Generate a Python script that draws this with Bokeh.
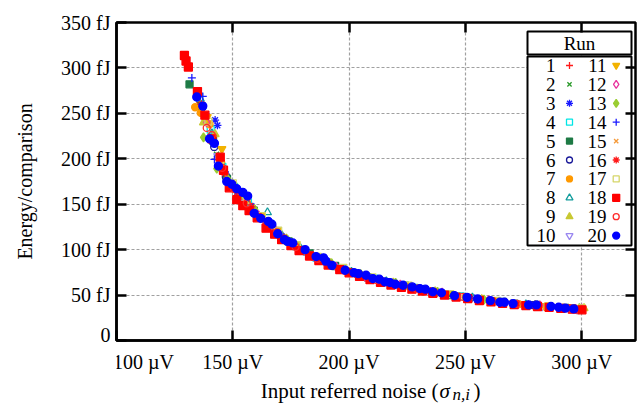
from bokeh.plotting import figure
from bokeh.layouts import column
from bokeh.models import FixedTicker, LinearAxis, Label, Range1d, Grid
from bokeh.embed import file_html
from bokeh.resources import INLINE

FONT = "Liberation Serif"

# ---------------- data ----------------
x_ticks = [100, 150, 200, 250, 300]
x_tick_labels = ["100 µV", "150 µV", "200 µV", "250 µV", "300 µV"]
y_ticks = [0, 50, 100, 150, 200, 250, 300, 350]
y_tick_labels = ["0", "50 fJ", "100 fJ", "150 fJ", "200 fJ", "250 fJ", "300 fJ", "350 fJ"]
grid_x = [150, 200, 250, 300]
grid_y = [50, 100, 150, 200, 250, 300]
y_title = "Energy/comparison"
x_title_main = "Input referred noise ("
x_title_sym = "σ"
x_title_sub = "n,i"
x_title_end = ")"
legend_title = "Run"
run_labels = [str(i) for i in range(1, 21)]

sig_01 = [136, 141, 146, 151, 157, 163, 170, 178, 188, 200, 215, 232, 252, 275, 298]
en_01 = [262, 227, 188, 165, 151, 133, 119, 102, 89, 75, 65, 56, 47, 39.2, 34.6]
sig_02 = [138, 143, 148, 154, 160, 167, 174, 183, 193, 206, 221, 238, 258, 280, 299]
en_02 = [246, 205, 174, 156, 138, 124, 109, 95, 83, 71.5, 62, 53, 44.5, 38.4, 34.2]
sig_03 = [142.4, 143.4, 147, 152, 158, 165, 172, 180, 190, 202, 217, 234, 254, 277, 297]
en_03 = [242.6, 236.8, 183, 163, 148, 129, 114, 99, 86, 74.5, 64, 55, 46, 39.5, 35.2]
sig_04 = [135.5, 140.5, 145.5, 150.5, 156.5, 162.5, 169, 177, 186, 197, 211, 228, 248, 271, 296]
en_04 = [268, 232, 191, 169, 152, 135, 120, 104, 91, 79, 68, 58, 48.5, 40.5, 35.3]
sig_05 = [131.4, 136.5, 141.5, 147.5, 153, 159, 166, 174, 183, 194, 208, 224, 244, 266, 293]
en_05 = [282, 258, 220, 178, 160, 143, 127, 109, 96, 82, 69.5, 60.5, 50, 42.4, 36]
sig_06 = [137, 142, 147, 152.5, 158.5, 165, 172.5, 181, 191, 203, 218, 236, 256, 279, 300]
en_06 = [257, 213, 180, 162, 145, 129, 112, 98, 86, 73.5, 63, 54, 45.3, 38.9, 34.6]
sig_07 = [133.8, 136.2, 140, 145, 150, 156, 162, 169, 177, 187, 199, 213, 230, 250, 273, 297]
en_07 = [256.7, 250.5, 238, 196, 172, 154, 136, 120, 104, 90, 77, 67, 57.5, 47.7, 40, 35]
sig_08 = [136, 141, 146, 151, 157, 164.9, 171, 179, 189, 201, 216, 233, 253, 276, 299]
en_08 = [266, 228, 190, 168, 149, 141, 116, 102, 88, 75.5, 65, 55.5, 47, 39.8, 34.9]
sig_09 = [137.4, 142.4, 147.5, 153, 159, 165.5, 173, 181.5, 192, 204, 219, 237, 257, 280, 301]
en_09 = [240, 227, 179, 161, 143, 130, 112, 98, 85, 73, 63.5, 54, 45.5, 39, 35.5]
sig_10 = [138.5, 143.5, 149, 155, 161, 168, 176, 185, 195, 208, 223, 241, 261, 283, 298]
en_10 = [247, 203, 172, 155, 137, 122, 105, 92, 80, 69, 60, 51.5, 43.5, 37.6, 34]
sig_11 = [139, 145.3, 150, 155.5, 162, 169, 177, 186, 197, 209, 224, 242, 262, 284, 299]
en_11 = [246, 210.8, 171, 155, 137, 121, 105, 92, 79, 69.5, 61, 51.8, 43.6, 37.9, 34.9]
sig_12 = [138.8, 144, 149.5, 155, 161, 167.5, 175, 184, 194.5, 207, 222, 240, 260, 282, 300]
en_12 = [240, 199, 171, 157, 138, 125, 107, 93, 81, 70, 61.5, 52.6, 44.5, 38.6, 35]
sig_13 = [137.4, 143.1, 148, 153.5, 159.5, 166, 173.5, 182, 192.5, 205, 220, 238, 258, 281, 299]
en_13 = [223.5, 189.2, 177, 160, 144, 128, 111, 97, 85, 73, 63.5, 53.5, 45, 38.8, 35.6]
sig_14 = [132.4, 137.1, 142.1, 146.5, 151.5, 157.5, 164, 171.5, 180, 190, 202, 217, 234, 254, 277, 297]
en_14 = [289, 268.6, 199.3, 185, 164, 147, 131, 114, 100, 87, 74.5, 64.5, 55, 46.2, 39.3, 34.9]
sig_15 = [135, 140, 145, 150.5, 156, 162.5, 170, 178.5, 188.5, 200.5, 215, 232, 251, 274, 296]
en_15 = [271, 237, 195, 168, 153, 134, 118, 101, 88, 75.8, 65.8, 56.2, 47.3, 39.8, 35.3]
sig_16 = [136.5, 141.5, 146.5, 152, 158, 164.5, 172, 180.5, 190.5, 202.5, 217.5, 235, 255, 278, 300]
en_16 = [260, 220, 184, 163, 147, 131, 113, 99, 86, 74, 64, 54.5, 45.5, 38.9, 34.2]
sig_17 = [139.5, 144.5, 150, 156, 162.5, 169.5, 177.5, 186.5, 197.5, 210, 225.5, 243.5, 263.5, 285.5, 300]
en_17 = [241, 198, 173, 155, 137, 121, 105, 92, 80, 69.5, 60.5, 51, 43.5, 37.8, 35.4]
sig_18 = [129.2, 129.9, 130.9, 134.8, 138, 141, 144.6, 146, 148.5, 151.7, 154.3, 157, 160.5, 164.3,
          168, 171, 175, 178.5, 183, 187, 191, 196, 200, 204.5, 209, 213.5, 218, 222.5, 227, 231.5,
          236, 241, 246, 251, 256, 261, 266, 271, 276, 281, 286, 291, 296, 300.1]
en_18 = [313.7, 307.6, 301, 274, 248, 222, 201.8, 187.4, 168, 155, 148.4, 143, 135, 123.6,
         117, 111, 104.5, 99, 93, 88, 83, 78, 74.5, 70.5, 67, 64, 61, 58.5, 56.5, 54.5,
         52, 50, 47.8, 46, 44, 42.5, 41, 39.6, 38.4, 37.4, 36.5, 35.4, 34.5, 33.8]
sig_19 = [138.8, 141, 145.5, 150.5, 156, 162, 169, 177, 186.5, 198, 212, 229, 249, 272, 295]
en_19 = [234, 226, 190, 167, 151, 135, 119, 103, 90, 77, 66.5, 57, 48, 40.4, 35.2]
sig_20 = [134.5, 137.1, 140, 142.1, 143.8, 147.4, 149.6, 151.7, 154.3, 156.4, 159.2, 162, 165.3,
          166.8, 169.3, 172.2, 173.6, 175.8, 181.1, 185.8, 189, 190, 192.6, 198.3, 202.1, 204,
          207.3, 210.2, 213, 215.5, 217.6, 219.9, 223.2, 227.1, 230.4, 232.8, 236, 239.7, 245.3,
          250.7, 255.3, 260.7, 264.8, 266.8, 270.5, 277.2, 280.5, 286.8, 290.1, 293, 296.6]
en_20 = [268, 258, 222, 217, 192, 175, 172, 167, 163, 159, 140, 134.5, 131,
         128, 117.5, 111, 109, 107.4, 100, 92.4, 91, 87.4, 82.7, 77.3, 74.7, 73.6,
         71.8, 68.2, 67.5, 64.5, 63.8, 61.9, 60.8, 59, 57.2, 56.5, 53.6, 52.5, 49.3,
         47.5, 45.7, 43.9, 42.1, 42.1, 40.6, 39.2, 39.2, 37.4, 36.6, 35.6, 34.8]

runs = [(sig_01, en_01), (sig_02, en_02), (sig_03, en_03), (sig_04, en_04), (sig_05, en_05),
        (sig_06, en_06), (sig_07, en_07), (sig_08, en_08), (sig_09, en_09), (sig_10, en_10),
        (sig_11, en_11), (sig_12, en_12), (sig_13, en_13), (sig_14, en_14), (sig_15, en_15),
        (sig_16, en_16), (sig_17, en_17), (sig_18, en_18), (sig_19, en_19), (sig_20, en_20)]

# ---------------- styles ----------------
colors = ["#ff1a1a", "#2a9a2a", "#1a1aff", "#00e6e6", "#1e7a45", "#1a1a99", "#ff9900",
          "#109c9c", "#c8c832", "#9a88f0", "#f2b200", "#e8359e", "#9acd32", "#1a1aff",
          "#f59a3a", "#ff1a1a", "#d6d66a", "#ff0000", "#ff2a2a", "#0000ff"]
markers = ["cross", "x", "asterisk", "square", "square", "circle", "circle", "triangle",
           "triangle", "inverted_triangle", "inverted_triangle", "diamond", "diamond",
           "cross", "x", "asterisk", "square", "square", "circle", "circle"]
filled = [False, False, False, False, True, False, True, False, True, False,
          True, False, True, False, False, False, False, True, False, True]
sizes = [8, 7, 8, 7, 7, 7, 7, 8, 8, 8, 8, 9, 9, 8, 7, 8, 7, 8, 7, 8]

W = 642
H1, H2 = 345, 58
ML, MR, MT, MB = 116, 7, 22, 5
FW, FH = W - ML - MR, H1 - MT - MB
X0, X1 = 100, 100 + FW / 2.326
Y0, Y1 = 0, 350


def fx2x(fx):
    return X0 + fx * (X1 - X0) / FW


def fy2y(fy):
    return Y0 + fy * (Y1 - Y0) / FH


p = figure(width=W, height=H1, output_backend="svg", toolbar_location=None,
           x_range=Range1d(X0, X1), y_range=Range1d(Y0, Y1),
           min_border_left=ML, min_border_right=MR, min_border_top=MT, min_border_bottom=MB,
           x_axis_type=None, y_axis_type=None)
p.background_fill_color = "white"
p.border_fill_color = "white"
p.outline_line_color = "black"
p.outline_line_width = 2.5


def style_axis(ax, ticks, labels, show_labels=True, show_line=True):
    ax.ticker = FixedTicker(ticks=ticks)
    ax.major_label_overrides = {t: l for t, l in zip(ticks, labels)}
    ax.major_tick_in = 10
    ax.major_tick_out = 0
    ax.major_tick_line_width = 2.5
    ax.major_tick_line_color = "black"
    ax.minor_tick_line_color = None
    ax.axis_line_color = "black" if show_line else None
    ax.axis_line_width = 2.5
    ax.major_label_text_font = FONT
    ax.major_label_text_color = "black"
    if show_labels:
        ax.major_label_text_font_size = "20px"
    else:
        ax.major_label_text_font_size = "0px"
        ax.major_label_standoff = 0


xa = LinearAxis()
style_axis(xa, x_ticks, [""] * len(x_ticks), show_labels=False)
p.add_layout(xa, "below")

ya = LinearAxis()
style_axis(ya, y_ticks, y_tick_labels)
ya.major_label_standoff = 6
ya.axis_label = y_title
ya.axis_label_text_font = FONT
ya.axis_label_text_font_size = "20px"
ya.axis_label_text_font_style = "normal"
ya.axis_label_text_color = "black"
ya.axis_label_standoff = 22
p.add_layout(ya, "left")

xt = LinearAxis()
style_axis(xt, grid_x, [""] * len(grid_x), show_labels=False, show_line=False)
p.add_layout(xt, "above")
yr = LinearAxis()
style_axis(yr, grid_y, [""] * len(grid_y), show_labels=False, show_line=False)
p.add_layout(yr, "right")

for dim, gt in ((0, grid_x), (1, grid_y)):
    p.add_layout(Grid(dimension=dim, ticker=FixedTicker(ticks=gt), grid_line_color="#a0a0a0",
                      grid_line_dash="3 2", grid_line_width=1.2))

# data
for i, (sx, sy) in enumerate(runs):
    p.scatter(sx, sy, marker=markers[i], size=sizes[i], line_color=colors[i],
              line_width=1.3, fill_color=colors[i] if filled[i] else None)

# legend
LB_L, LB_R = 411, 515
p.quad(left=[fx2x(LB_L)], right=[fx2x(LB_R)], top=[fy2y(309)], bottom=[fy2y(286)],
       fill_color="white", line_color="black", line_width=2)
p.quad(left=[fx2x(LB_L)], right=[fx2x(LB_R)], top=[fy2y(284)], bottom=[fy2y(95)],
       fill_color="white", line_color="black", line_width=2)
p.add_layout(Label(x=(LB_L + LB_R) / 2, y=297.5, x_units="screen", y_units="screen",
                   text=legend_title, text_font=FONT, text_font_size="19px",
                   text_align="center", text_baseline="middle", text_color="black"))
row0, row_step = 275, 18.9
col_num = [439, 490]
col_mark = [453, 499.7]
for i in range(20):
    c, r = divmod(i, 10)
    fy = row0 - r * row_step
    p.add_layout(Label(x=col_num[c], y=fy, x_units="screen", y_units="screen",
                       text=run_labels[i], text_font=FONT, text_font_size="19px",
                       text_align="right", text_baseline="middle", text_color="black"))
    p.scatter([fx2x(col_mark[c])], [fy2y(fy)], marker=markers[i], size=sizes[i] - 1,
              line_color=colors[i], line_width=1.3,
              fill_color=colors[i] if filled[i] else None)

# ---------------- lower strip: x tick labels and x title ----------------
# (its frame lines up with the plot frame, so it shares the x range)
q = figure(width=W, height=H2, output_backend="svg", toolbar_location=None,
           x_range=Range1d(X0, X1), y_range=Range1d(0, H2),
           min_border_left=ML, min_border_right=MR, min_border_top=0, min_border_bottom=0,
           x_axis_type=None, y_axis_type=None)
q.outline_line_color = None
q.background_fill_color = "white"
q.border_fill_color = "white"

for t, lab in zip(x_ticks, x_tick_labels):
    off = 27 if t == x_ticks[0] else 0
    q.add_layout(Label(x=t, y=H2 - 16, x_offset=off, text=lab, text_font=FONT,
                       text_font_size="20px", text_align="center",
                       text_baseline="alphabetic", text_color="black"))

XP = fx2x(322)
TB = 13
q.add_layout(Label(x=XP, y=TB, text=x_title_main, text_font=FONT, text_font_size="21px",
                   text_align="right", text_baseline="alphabetic", text_color="black"))
q.add_layout(Label(x=XP, y=TB, x_offset=1, text=x_title_sym, text_font=FONT,
                   text_font_size="21px", text_font_style="italic", text_align="left",
                   text_baseline="alphabetic", text_color="black"))
q.add_layout(Label(x=XP, y=TB - 4, x_offset=14, text=x_title_sub, text_font=FONT,
                   text_font_size="17px", text_font_style="italic", text_align="left",
                   text_baseline="alphabetic", text_color="black"))
q.add_layout(Label(x=XP, y=TB, x_offset=35, text=x_title_end, text_font=FONT,
                   text_font_size="21px", text_align="left", text_baseline="alphabetic",
                   text_color="black"))

layout = column(p, q, spacing=0)
open("out.html", "w").write(file_html(layout, INLINE))
